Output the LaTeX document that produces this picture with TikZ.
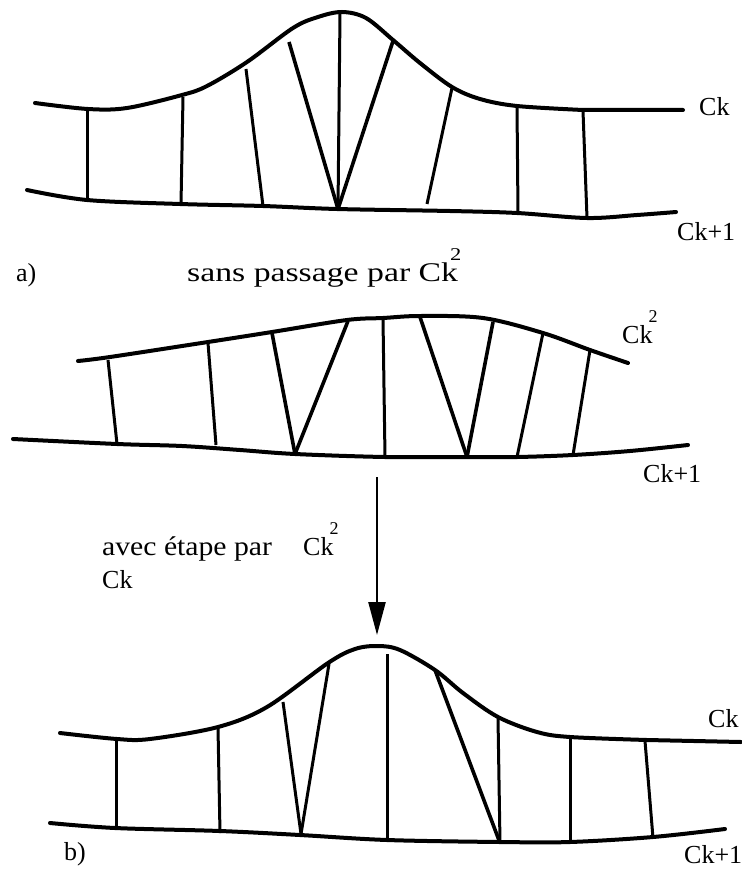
\documentclass[tikz,border=0pt]{standalone}
\usepackage{fontspec}
\setmainfont{Liberation Serif}
\newfontfamily\prosefont[FakeStretch=1.25]{Liberation Serif}
\newfontfamily\prosefontb[FakeStretch=1.1]{Liberation Serif}
\usetikzlibrary{arrows.meta}
\newcommand{\CkSq}{C\makebox[0pt][l]{\hspace{9pt}\raisebox{21pt}{\fontsize{18}{18}\selectfont 2}}k}
\tikzset{
  curve/.style={line width=4pt, line cap=round, line join=round},
  rung/.style={line width=3pt},
  vrung/.style={line width=3.6pt},
  lab/.style={anchor=base west, inner sep=0pt, font=\fontsize{26}{30}\selectfont},
  prose/.style={anchor=base west, inner sep=0pt, font=\prosefont\fontsize{27}{32}\selectfont},
  proseb/.style={anchor=base west, inner sep=0pt, font=\prosefontb\fontsize{27}{32}\selectfont},
}
\begin{document}
\begin{tikzpicture}[x=1pt,y=-1pt]
\useasboundingbox (0,0) rectangle (741,872);
% ---------- top figure ----------
\draw[curve] plot[smooth, tension=0.55] coordinates {(35,103) (88,109) (127,108) (182,95) (207,86) (247,62) (293,28) (318,17) (342,12) (366,18) (393,40) (420,63) (452,87) (480,99) (517,106) (583,110)} -- (683,110);
\draw[curve] plot[smooth, tension=0.55] coordinates {(27,190) (87,200) (180,204) (263,206) (337,209) (450,211) (517,213) (587,218) (637,215) (676,212)};
\draw[rung] (87,110) -- (87,201);
\draw[rung] (183,97) -- (181,204);
\draw[rung] (246,69) -- (263,206);
\draw[vrung] (289,42) -- (338,209);
\draw[rung] (340,13) -- (338,209);
\draw[vrung] (393,41) -- (338,209);
\draw[rung] (452,88) -- (427,204);
\draw[rung] (517,107) -- (518,213);
\draw[rung] (583,111) -- (587,218);
\node[lab] (ck1) at (699,116) {Ck};
\node[lab] (ck1b) at (677,240) {Ck+1};
\node[lab] (la) at (16,281) {a)};
\node[prose] (sans) at (187,281) {sans passage par \CkSq};
% ---------- middle figure ----------
\draw[curve] plot[smooth, tension=0.55] coordinates {(78,361) (110,357) (208,342) (272,332) (347,320) (383,318) (420,316) (483,318) (543,333) (590,350) (628,363)};
\draw[curve] plot[smooth, tension=0.55] coordinates {(13,439) (117,444) (182,446) (240,450) (295,454) (385,457) (467,457) (517,457) (573,455) (630,451) (688,445)};
\draw[rung] (108,360) -- (117,444);
\draw[rung] (208,343) -- (216,445);
\draw[vrung] (272,333) -- (295,454);
\draw[vrung] (348,321) -- (295,454);
\draw[rung] (383,319) -- (385,457);
\draw[vrung] (420,317) -- (467,457);
\draw[vrung] (493,322) -- (467,457);
\draw[rung] (543,333) -- (517,457);
\draw[rung] (590,350) -- (573,455);
\node[lab] (ck2) at (622,343) {\CkSq};
\node[lab] (ck2b) at (643,482) {Ck+1};
% arrow
\coordinate (arrA) at (377,477);
\coordinate (arrB) at (377,635);
\draw[line width=2.4pt, -{Triangle[length=33pt,width=17pt]}] (arrA) -- (arrB);
\node[proseb] (avec) at (102,555) {avec étape par};
\node[lab] (avck) at (303,555) {\CkSq};
\node[lab] (avck2) at (102,588) {Ck};
% ---------- bottom figure ----------
\draw[curve] plot[smooth, tension=0.55] coordinates {(60,733) (117,739) (150,739) (218,727) (267,707) (328,663) (355,649) (378,646) (400,650) (435,670) (463,693) (498,717) (537,732) (570,737) (647,740)} -- (741,742);
\draw[curve] plot[smooth, tension=0.55] coordinates {(50,823) (115,828) (220,831) (300,835) (387,840) (500,842) (570,842) (653,837) (725,829)};
\draw[rung] (116,741) -- (116,830);
\draw[rung] (218,728) -- (220,833);
\draw[rung] (283,702) -- (301,834);
\draw[rung] (329,664) -- (301,834);
\draw[rung] (387,654) -- (387,840);
\draw[vrung] (435,670) -- (500,843);
\draw[rung] (498,718) -- (500,843);
\draw[rung] (570,738) -- (570,842);
\draw[rung] (645,741) -- (653,838);
\node[lab] (ck3) at (708,727) {Ck};
\node[lab] (ck3b) at (684,863) {Ck+1};
\node[lab] (lb) at (64,860) {b)};
\end{tikzpicture}
\end{document}
